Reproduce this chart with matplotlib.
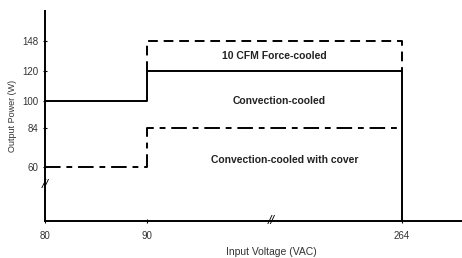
import numpy as np
import matplotlib
matplotlib.use("Agg")
import matplotlib.pyplot as plt
from matplotlib.scale import FuncScale

plt.rcParams['font.family'] = ['Liberation Sans', 'DejaVu Sans']

# data
x_ticks = [80, 90, 264]
y_ticks = [60, 84, 100, 120, 148]

force_x = [90, 90, 264, 264]
force_y = [120, 148, 148, 120]
conv_x = [80, 90, 90, 264, 264]
conv_y = [100, 100, 120, 120, 0]
cover_x = [80, 90, 90, 264]
cover_y = [60, 60, 84, 84]

labels = ["10 CFM Force-cooled", "Convection-cooled", "Convection-cooled with cover"]

# broken axes: piecewise linear scales
xv = [80, 90, 264, 305]
xp = [0, 102, 357, 417]
yv = [0, 60, 84, 100, 120, 148, 176]
yp = [0, 54, 93, 120, 150, 180, 210]

def fx(v):
    return np.interp(v, xv, xp)

def ix(p):
    return np.interp(p, xp, xv)

def fy(v):
    return np.interp(v, yv, yp)

def iy(p):
    return np.interp(p, yp, yv)

fig = plt.figure(figsize=(4.62, 2.58), dpi=100)
ax = fig.add_axes([0.0974, 0.1434, 0.9026, 0.814])
ax.set_xscale(FuncScale(ax, (fx, ix)))
ax.set_yscale(FuncScale(ax, (fy, iy)))
ax.set_xlim(80, 305)
ax.set_ylim(0, 176)

ax.plot(force_x, force_y, color='black', lw=1.4, dashes=(5, 3))
ax.plot(conv_x, conv_y, color='black', lw=1.4)
ax.plot(cover_x, cover_y, color='black', lw=1.4, dashes=(8, 3, 3, 3))

ax.text(177, 134, labels[0], ha='center', va='center', fontsize=7.5, fontweight='bold', color='#222222')
ax.text(180, 100, labels[1], ha='center', va='center', fontsize=7.5, fontweight='bold', color='#222222')
ax.text(184, 64, labels[2], ha='center', va='center', fontsize=7.5, fontweight='bold', color='#222222')

# break marks
ax.text(80, 40, "//", ha='center', va='center', fontsize=9, style='italic', clip_on=False)
ax.text(175, 0, "//", ha='center', va='center', fontsize=9, style='italic', clip_on=False)

ax.set_xticks(x_ticks)
ax.set_yticks(y_ticks)
ax.minorticks_off()
ax.tick_params(axis='y', direction='inout', length=3, width=0.8, labelsize=7, labelcolor='#333333', pad=3)
ax.tick_params(axis='x', direction='inout', length=3, width=0.8, labelsize=7, labelcolor='#333333', pad=6)
for s in ['top', 'right']:
    ax.spines[s].set_visible(False)
for s in ['left', 'bottom']:
    ax.spines[s].set_linewidth(1.4)

ax.set_xlabel("Input Voltage (VAC)", fontsize=7.5, color='#333333', va='center')
ax.xaxis.set_label_coords(0.543, -0.148)
ax.set_ylabel("Output Power (W)", fontsize=6.5, color='#333333', va='center')
ax.yaxis.set_label_coords(-0.077, 0.5)

fig.savefig("out.png", dpi=100)
